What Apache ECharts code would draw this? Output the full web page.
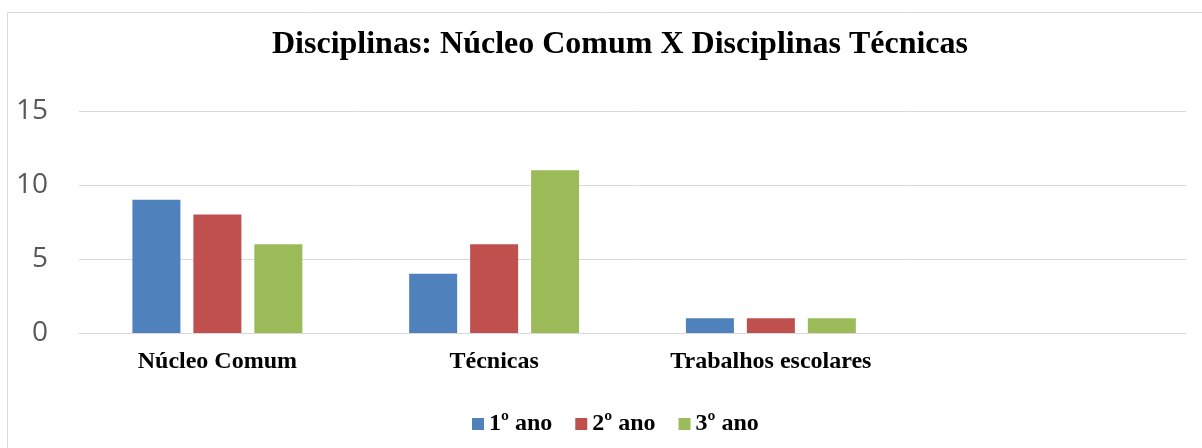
<!DOCTYPE html>
<html><head><meta charset="utf-8">
<script src="https://cdn.jsdelivr.net/npm/echarts@6/dist/echarts.min.js"></script>
<style>html,body{margin:0;padding:0;background:#fff}#c{width:1202px;height:448px}</style>
</head><body><div id="c"></div>
<script>
const categories = ['Núcleo Comum', 'Técnicas', 'Trabalhos escolares', ''];
const seriesNames = ['1º ano', '2º ano', '3º ano'];
const ano1 = [9, 4, 1, null];
const ano2 = [8, 6, 1, null];
const ano3 = [6, 11, 1, null];
const yTicks = [0, 5, 10, 15];
const colors = ['#4F81BD', '#C0504D', '#9BBB59'];
const values = [ano1, ano2, ano3];

const chart = echarts.init(document.getElementById('c'), null, {renderer: 'canvas'});
chart.setOption({
  animation: false,
  title: {
    text: 'Disciplinas: Núcleo Comum X Disciplinas Técnicas',
    left: 615, top: 24, textAlign: 'center',
    textStyle: {fontFamily: 'Liberation Serif', fontWeight: 'bold', fontSize: 32, color: '#000'}
  },
  graphic: [{
    type: 'rect', shape: {x: 7.5, y: 12.5, width: 1200, height: 440},
    style: {fill: 'none', stroke: '#d9d9d9', lineWidth: 1}, silent: true
  }],
  legend: {
    data: seriesNames, top: 407, left: 467,
    itemWidth: 12, itemHeight: 12, itemGap: 23, icon: 'rect',
    textStyle: {fontFamily: 'Liberation Serif', fontWeight: 'bold', fontSize: 24, color: '#000', padding: [0, 0, 0, 0]}
  },
  grid: {left: 79, right: 16, top: 111, bottom: 115},
  xAxis: {
    type: 'category', data: categories,
    axisLine: {show: true, lineStyle: {color: '#d9d9d9', width: 1}},
    axisTick: {show: false},
    axisLabel: {fontFamily: 'Liberation Serif', fontWeight: 'bold', fontSize: 24, color: '#000', margin: 17}
  },
  yAxis: {
    type: 'value', min: 0, max: 15, interval: 5,
    axisLine: {show: false}, axisTick: {show: false},
    splitLine: {lineStyle: {color: '#d9d9d9', width: 1}},
    axisLabel: {fontFamily: 'Open Sans', fontSize: 28, color: '#595959', margin: 31,
      formatter: v => yTicks.includes(v) ? String(v) : ''}
  },
  series: values.map((d, i) => ({
    name: seriesNames[i], type: 'bar', data: d,
    barWidth: 48, barGap: '27%',
    itemStyle: {color: colors[i]}
  }))
});
</script></body></html>
